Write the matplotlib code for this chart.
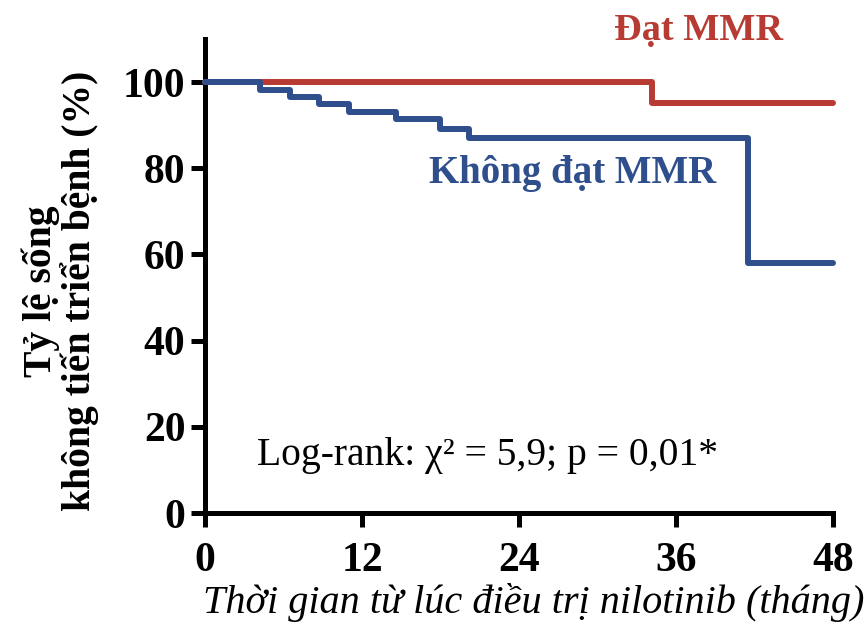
import matplotlib
matplotlib.use("Agg")
import matplotlib.pyplot as plt

# Kaplan-Meier style step data (months, % progression-free)
t_dat = [0, 34.2, 48]
s_dat = [100, 95.1, 95.1]

t_khong = [0, 4.2, 6.5, 8.7, 11.0, 14.6, 18.0, 20.2, 41.5, 48]
s_khong = [100, 98.2, 96.5, 94.9, 93.1, 91.4, 89.2, 87.0, 58.0, 58.0]

x_ticks = [0, 12, 24, 36, 48]
y_ticks = [0, 20, 40, 60, 80, 100]

red = "#B83B33"
blue = "#2F4E8C"

plt.rcParams["font.family"] = ["Liberation Serif", "DejaVu Serif"]

fig = plt.figure(figsize=(8.67, 6.28), dpi=100)
ax = fig.add_axes([0.2364, 0.1831, 0.7244, 0.7548])

ax.step(t_dat, s_dat, where="post", color=red, lw=4.3,
        solid_capstyle="round", clip_on=False, zorder=3)
ax.step(t_khong, s_khong, where="post", color=blue, lw=4.3,
        solid_capstyle="round", clip_on=False, zorder=4)

ax.set_xlim(0, 48)
ax.set_ylim(0, 110)
ax.set_xticks(x_ticks)
ax.set_yticks(y_ticks)

for side in ["top", "right"]:
    ax.spines[side].set_visible(False)
for side in ["left", "bottom"]:
    ax.spines[side].set_linewidth(3.6)
ax.tick_params(width=3.6, length=10, labelsize=30, direction="out")
ax.tick_params(axis="x", pad=11)
ax.tick_params(axis="y", pad=4)
for lab in ax.get_xticklabels() + ax.get_yticklabels():
    lab.set_fontweight("bold")

# axis titles
fig.text(534 / 867, 1 - 613 / 628, "Thời gian từ lúc điều trị nilotinib (tháng)",
         fontsize=29, style="italic", ha="center", va="baseline")
fig.text(60 / 867, 1 - 291 / 628, "Tỷ lệ sống\nkhông tiến triển bệnh (%)",
         fontsize=28.5, fontweight="bold", rotation=90, ha="center",
         va="center", multialignment="center", linespacing=1.0)

# annotations
ax.text(37.7, 109.7, "Đạt MMR", color=red, fontsize=27.5,
        fontweight="bold", ha="center", va="baseline", clip_on=False)
ax.text(28.1, 76.6, "Không đạt MMR", color=blue, fontsize=28,
        fontweight="bold", ha="center", va="baseline")
ax.text(21.6, 11.1, "Log-rank: χ² = 5,9; p = 0,01*", fontsize=28.5,
        ha="center", va="baseline")

fig.savefig("out.png", dpi=100)
